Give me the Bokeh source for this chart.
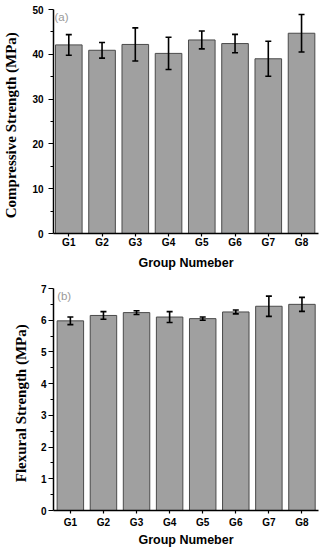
from bokeh.plotting import figure
from bokeh.layouts import column
from bokeh.models import (ColumnDataSource, Range1d, FixedTicker, Whisker, TeeHead, Label)
from bokeh.embed import file_html
from bokeh.resources import INLINE

groups = ["G1", "G2", "G3", "G4", "G5", "G6", "G7", "G8"]
comp_mean = [42.1, 40.9, 42.2, 40.2, 43.2, 42.4, 39.0, 44.7]
comp_err = [2.3, 1.75, 3.7, 3.6, 2.0, 2.05, 3.9, 4.2]
flex_mean = [5.98, 6.15, 6.24, 6.10, 6.05, 6.26, 6.44, 6.50]
flex_err = [0.12, 0.12, 0.06, 0.17, 0.05, 0.06, 0.32, 0.22]
comp_ticks = [0, 10, 20, 30, 40, 50]
flex_ticks = [0, 1, 2, 3, 4, 5, 6, 7]

BAR = "#a0a0a0"
EDGE = "#4a4a4a"
SANS = "Liberation Sans"
SERIF = "Liberation Serif"


def make(means, errs, ticks, minor, ymax, xr, ylabel, tag, tagx, tagy,
         height, bt, bb, bl, br, xls, xts, yls, yts):
    xs = list(range(1, len(groups) + 1))
    src = ColumnDataSource(dict(
        x=xs, top=means,
        lo=[m - e for m, e in zip(means, errs)],
        hi=[m + e for m, e in zip(means, errs)]))
    p = figure(width=332, height=height, output_backend="svg",
               toolbar_location=None, x_range=Range1d(*xr),
               y_range=Range1d(0, ymax),
               min_border_top=bt, min_border_bottom=bb,
               min_border_left=bl, min_border_right=br)
    p.outline_line_color = None
    p.xgrid.visible = False
    p.ygrid.visible = False
    p.vbar(x="x", top="top", bottom=0, width=0.8, source=src,
           fill_color=BAR, line_color=EDGE, line_width=1)
    w = Whisker(base="x", lower="lo", upper="hi", source=src,
                line_color="black", line_width=1.6, level="overlay",
                upper_head=TeeHead(size=6, line_color="black", line_width=1.6),
                lower_head=TeeHead(size=6, line_color="black", line_width=1.6))
    p.add_layout(w)

    p.xaxis.ticker = FixedTicker(ticks=xs)
    p.xaxis.major_label_overrides = {i: g for i, g in zip(xs, groups)}
    p.xaxis.axis_label = "Group Numeber"
    p.xaxis.axis_label_text_font = SANS
    p.xaxis.axis_label_text_font_style = "bold"
    p.xaxis.axis_label_text_font_size = "12.5px"
    p.xaxis.axis_label_standoff = xts
    p.xaxis.major_tick_out = 3
    p.xaxis.major_tick_in = 0
    p.xaxis.minor_tick_out = 0
    p.xaxis.major_label_standoff = xls

    p.yaxis.ticker = FixedTicker(ticks=ticks, minor_ticks=minor)
    p.yaxis.axis_label = ylabel
    p.yaxis.axis_label_text_font = SERIF
    p.yaxis.axis_label_text_font_style = "bold"
    p.yaxis.axis_label_text_font_size = "15px"
    p.yaxis.axis_label_standoff = yts
    p.yaxis.major_tick_out = 5
    p.yaxis.major_tick_in = 0
    p.yaxis.minor_tick_out = 3
    p.yaxis.minor_tick_in = 0
    p.yaxis.major_label_standoff = yls

    for ax in (p.xaxis, p.yaxis):
        ax.axis_line_width = 1.5
        ax.axis_line_color = "black"
        ax.major_tick_line_width = 1.2
        ax.minor_tick_line_width = 1.2
        ax.major_label_text_font = SANS
        ax.major_label_text_font_style = "bold"
        ax.major_label_text_font_size = "10px"
        ax.major_label_text_color = "black"
        ax.axis_label_text_color = "black"

    p.add_layout(Label(x=tagx, y=tagy, text=tag, text_font=SANS,
                       text_font_size="11.5px", text_color="#9a9a9a",
                       text_baseline="middle", text_align="left"))
    return p


top = make(comp_mean, comp_err, comp_ticks, [5, 15, 25, 35, 45], 50,
           (0.54, 8.51), "Compressive  Strength  (MPa)", "(a)", 0.57, 48.4,
           272, 9, 38, 47, 7, 0, 5, 5, 10)
bot = make(flex_mean, flex_err, flex_ticks,
           [0.5, 1.5, 2.5, 3.5, 4.5, 5.5, 6.5], 7,
           (0.49, 8.5), "Flexural  Strength  (MPa)", "(b)", 0.6, 6.76,
           277, 16, 38, 40, 14, 3, 2, 2, 9)

layout = column(top, bot, spacing=0)
open("out.html", "w").write(file_html(layout, INLINE))
